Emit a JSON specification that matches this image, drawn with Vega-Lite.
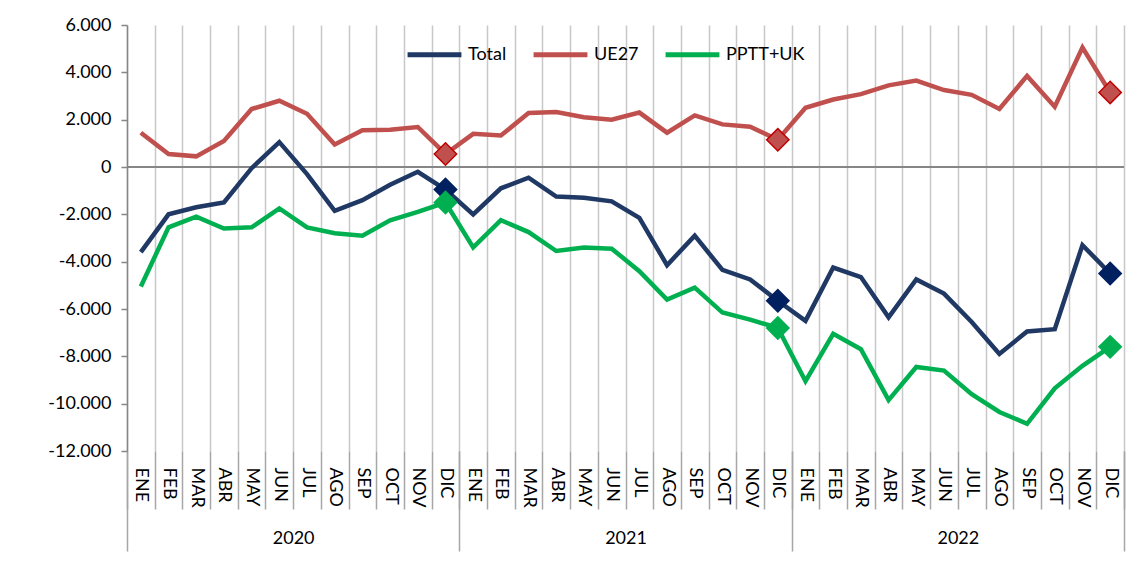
{
  "$schema": "https://vega.github.io/schema/vega-lite/v6.json",
  "autosize": {"type": "none"},
  "padding": {"left": 127, "top": 25, "right": 5, "bottom": 121},
  "width": 997,
  "height": 426,
  "config": {
    "font": "Lato",
    "view": {"stroke": null},
    "axis": {"labelColor": "#000000", "labelFont": "Lato"}
  },
  "data": {
    "values": [
      {"k": "2020-ENE", "yr": "2020", "m": "ENE", "Total": -3600, "UE27": 1450, "PPTT+UK": -5050},
      {"k": "2020-FEB", "yr": "2020", "m": "FEB", "Total": -2000, "UE27": 550, "PPTT+UK": -2550},
      {"k": "2020-MAR", "yr": "2020", "m": "MAR", "Total": -1700, "UE27": 450, "PPTT+UK": -2100},
      {"k": "2020-ABR", "yr": "2020", "m": "ABR", "Total": -1500, "UE27": 1100, "PPTT+UK": -2600},
      {"k": "2020-MAY", "yr": "2020", "m": "MAY", "Total": -50, "UE27": 2450, "PPTT+UK": -2550},
      {"k": "2020-JUN", "yr": "2020", "m": "JUN", "Total": 1050, "UE27": 2800, "PPTT+UK": -1750},
      {"k": "2020-JUL", "yr": "2020", "m": "JUL", "Total": -300, "UE27": 2250, "PPTT+UK": -2550},
      {"k": "2020-AGO", "yr": "2020", "m": "AGO", "Total": -1850, "UE27": 950, "PPTT+UK": -2800},
      {"k": "2020-SEP", "yr": "2020", "m": "SEP", "Total": -1400, "UE27": 1550, "PPTT+UK": -2900},
      {"k": "2020-OCT", "yr": "2020", "m": "OCT", "Total": -750, "UE27": 1570, "PPTT+UK": -2250},
      {"k": "2020-NOV", "yr": "2020", "m": "NOV", "Total": -200, "UE27": 1690, "PPTT+UK": -1900},
      {"k": "2020-DIC", "yr": "2020", "m": "DIC", "Total": -950, "UE27": 550, "PPTT+UK": -1500},
      {"k": "2021-ENE", "yr": "2021", "m": "ENE", "Total": -2000, "UE27": 1400, "PPTT+UK": -3400},
      {"k": "2021-FEB", "yr": "2021", "m": "FEB", "Total": -900, "UE27": 1330, "PPTT+UK": -2250},
      {"k": "2021-MAR", "yr": "2021", "m": "MAR", "Total": -450, "UE27": 2280, "PPTT+UK": -2750},
      {"k": "2021-ABR", "yr": "2021", "m": "ABR", "Total": -1250, "UE27": 2320, "PPTT+UK": -3550},
      {"k": "2021-MAY", "yr": "2021", "m": "MAY", "Total": -1300, "UE27": 2100, "PPTT+UK": -3400},
      {"k": "2021-JUN", "yr": "2021", "m": "JUN", "Total": -1450, "UE27": 2000, "PPTT+UK": -3450},
      {"k": "2021-JUL", "yr": "2021", "m": "JUL", "Total": -2150, "UE27": 2300, "PPTT+UK": -4400},
      {"k": "2021-AGO", "yr": "2021", "m": "AGO", "Total": -4150, "UE27": 1450, "PPTT+UK": -5600},
      {"k": "2021-SEP", "yr": "2021", "m": "SEP", "Total": -2900, "UE27": 2180, "PPTT+UK": -5100},
      {"k": "2021-OCT", "yr": "2021", "m": "OCT", "Total": -4350, "UE27": 1800, "PPTT+UK": -6150},
      {"k": "2021-NOV", "yr": "2021", "m": "NOV", "Total": -4750, "UE27": 1700, "PPTT+UK": -6450},
      {"k": "2021-DIC", "yr": "2021", "m": "DIC", "Total": -5650, "UE27": 1150, "PPTT+UK": -6800},
      {"k": "2022-ENE", "yr": "2022", "m": "ENE", "Total": -6500, "UE27": 2500, "PPTT+UK": -9050},
      {"k": "2022-FEB", "yr": "2022", "m": "FEB", "Total": -4250, "UE27": 2850, "PPTT+UK": -7050},
      {"k": "2022-MAR", "yr": "2022", "m": "MAR", "Total": -4650, "UE27": 3080, "PPTT+UK": -7700},
      {"k": "2022-ABR", "yr": "2022", "m": "ABR", "Total": -6350, "UE27": 3450, "PPTT+UK": -9850},
      {"k": "2022-MAY", "yr": "2022", "m": "MAY", "Total": -4750, "UE27": 3650, "PPTT+UK": -8450},
      {"k": "2022-JUN", "yr": "2022", "m": "JUN", "Total": -5350, "UE27": 3250, "PPTT+UK": -8600},
      {"k": "2022-JUL", "yr": "2022", "m": "JUL", "Total": -6550, "UE27": 3050, "PPTT+UK": -9600},
      {"k": "2022-AGO", "yr": "2022", "m": "AGO", "Total": -7900, "UE27": 2450, "PPTT+UK": -10350},
      {"k": "2022-SEP", "yr": "2022", "m": "SEP", "Total": -6950, "UE27": 3850, "PPTT+UK": -10850},
      {"k": "2022-OCT", "yr": "2022", "m": "OCT", "Total": -6850, "UE27": 2550, "PPTT+UK": -9350},
      {"k": "2022-NOV", "yr": "2022", "m": "NOV", "Total": -3300, "UE27": 5050, "PPTT+UK": -8400},
      {"k": "2022-DIC", "yr": "2022", "m": "DIC", "Total": -4500, "UE27": 3150, "PPTT+UK": -7600}
    ]
  },
  "transform": [{"fold": ["Total", "UE27", "PPTT+UK"], "as": ["serie", "valor"]}],
  "layer": [
    {
      "encoding": {
        "x": {
          "field": "k", "type": "ordinal", "sort": null, "bandPosition": 0.5,
          "scale": {"type": "band", "paddingInner": 0, "paddingOuter": 0},
          "axis": {
            "title": null, "domain": false, "grid": true, "gridColor": "#C8C8C8", "gridWidth": 1.5,
            "tickBand": "extent", "tickSize": 58, "tickColor": "#A6A6A6", "tickWidth": 1.5,
            "labelExpr": "split(datum.value, '-')[1]", "labelAngle": 90, "labelAlign": "left", "labelBaseline": "middle",
            "labelPadding": -42, "labelFontSize": 18
          }
        },
        "y": {
          "field": "valor", "type": "quantitative",
          "scale": {"domain": [-12000, 6000], "nice": false, "zero": false},
          "axis": {
            "title": null, "grid": false, "values": [-12000, -10000, -8000, -6000, -4000, -2000, 0, 2000, 4000, 6000],
            "labelExpr": "replace(replace(format(datum.value, ','), ',', '.'), '\u2212', '-')",
            "labelFontSize": 18, "labelPadding": 10, "tickSize": 6, "tickColor": "#868686", "tickWidth": 1.5,
            "domainColor": "#868686", "domainWidth": 1.5
          }
        }
      },
      "layer": [
        {
          "mark": {"type": "rule", "color": "#868686", "strokeWidth": 1.5},
          "encoding": {"y": {"datum": 0}, "x": null}
        },
        {
          "mark": {"type": "line", "strokeWidth": 4.5},
          "encoding": {
            "color": {
              "field": "serie", "type": "nominal",
              "scale": {"domain": ["Total", "UE27", "PPTT+UK"], "range": ["#1F3864", "#C0504D", "#00B050"]},
              "legend": {
                "title": null, "orient": "none", "legendX": 278, "legendY": 0, "direction": "horizontal",
                "symbolType": "stroke", "symbolSize": 2900, "symbolStrokeWidth": 5,
                "labelFontSize": 18, "labelFont": "Lato", "labelColor": "#000000", "labelOffset": 4, "columnPadding": 16
              }
            }
          }
        },
        {
          "mark": {"type": "point", "shape": "diamond", "filled": true, "strokeWidth": 1.5, "opacity": 1},
          "encoding": {
            "fill": {
              "field": "serie", "type": "nominal", "legend": null,
              "scale": {"domain": ["Total", "UE27", "PPTT+UK"], "range": ["#002060", "#C0504D", "#00B050"]}
            },
            "stroke": {
              "field": "serie", "type": "nominal", "legend": null,
              "scale": {"domain": ["Total", "UE27", "PPTT+UK"], "range": ["#002060", "#C00000", "#00B050"]}
            },
            "size": {"condition": {"test": "datum.m === 'DIC'", "value": 500}, "value": 0}
          }
        }
      ]
    },
    {
      "mark": {"type": "point", "opacity": 0},
      "encoding": {
        "x": {
          "field": "yr", "type": "ordinal",
          "scale": {"type": "band", "paddingInner": 0, "paddingOuter": 0},
          "axis": {
            "orient": "bottom", "title": null, "domain": false, "grid": false,
            "tickBand": "extent", "tickSize": 100, "tickColor": "#A6A6A6", "tickWidth": 1.5,
            "labelAngle": 0, "labelBaseline": "top", "labelPadding": -22, "labelFontSize": 18
          }
        }
      }
    }
  ],
  "resolve": {"scale": {"x": "independent"}, "axis": {"x": "independent"}}
}
